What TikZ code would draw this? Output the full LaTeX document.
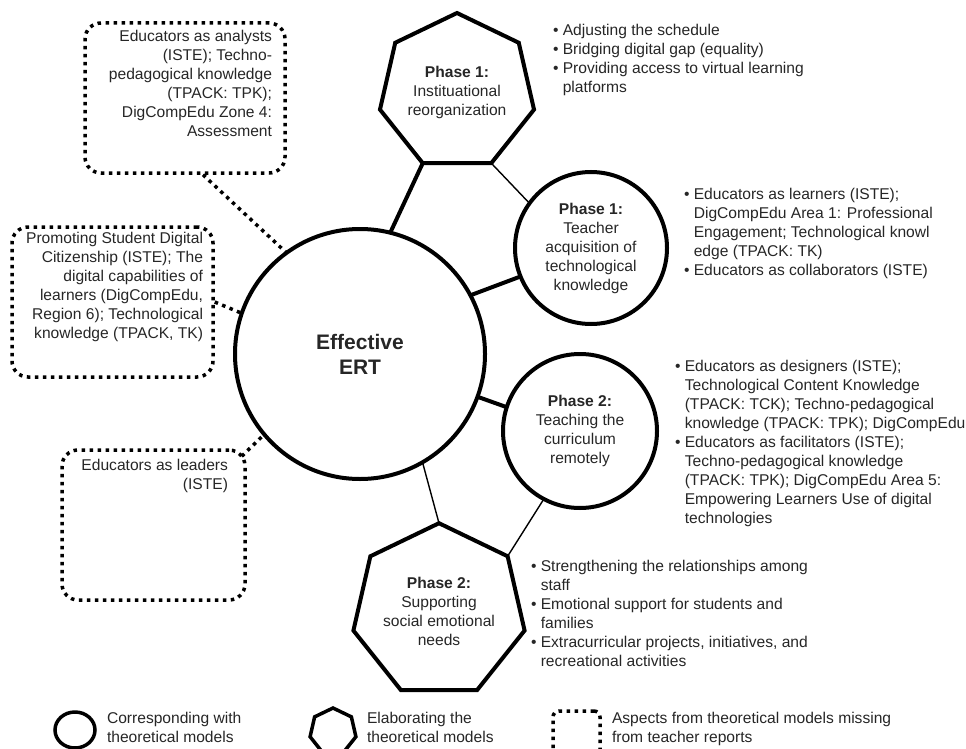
\documentclass[tikz,border=0pt]{standalone}
\usepackage{fontspec}
\setmainfont{Liberation Sans}
\usetikzlibrary{shapes.geometric,positioning}

\newcommand{\bitem}{\textbullet\ }
\newcommand{\bcont}{\phantom{\textbullet\ }}

\tikzset{
  txt/.style={font=\fontsize{15.6}{19}\selectfont, text=black!85, inner sep=0pt, outer sep=0pt},
  ring/.style={circle, draw, line width=4pt, align=center, txt},
  hepta/.style={regular polygon, regular polygon sides=7, draw, line width=4pt, align=center, minimum size=158pt, txt},
  dotbox/.style={draw, line width=3.5pt, dash pattern=on 3.5pt off 4.5pt, rounded corners=16pt},
  dotlink/.style={line width=3.5pt, dash pattern=on 3.5pt off 4.5pt},
  heavy/.style={line width=4pt},
  light/.style={line width=1.4pt}
}

\begin{document}
\begin{tikzpicture}[x=1pt,y=-1pt]
\useasboundingbox (0,0) rectangle (966,749);

% centre and phases
\node (ert) at (360,354) [ring, minimum size=250pt, font=\bfseries\fontsize{21}{25}\selectfont] {Effective\\ERT};
\node (h1) at (457,92) [hepta] {\textbf{Phase 1:}\\Instituational\\reorganization};
\node (p1) at (591,248) [ring, minimum size=152pt] {\textbf{Phase 1:}\\Teacher\\acquisition of\\technological\\knowledge};
\node (p2) at (580,431) [ring, minimum size=154pt] {\textbf{Phase 2:}\\Teaching the\\curriculum\\remotely};
\node (h2) at (439,611) [hepta] {\textbf{Phase 2:}\\Supporting\\social emotional\\needs};

\draw [heavy] (ert.76) -- (h1.corner 4);
\draw [light] (h1.corner 5) -- (p1.144);
\draw [heavy] (ert.28) -- (p1.202);
\draw [heavy] (ert.340) -- (p2.162);
\draw [light] (p2.242) -- (h2.corner 7);
\draw [light] (ert.300) -- (h2.corner 1);

% bullet lists
\node (list1) at (553,24.5) [txt, anchor=north west, align=left] {\bitem Adjusting the schedule\\
\bitem Bridging digital gap (equality)\\
\bitem Providing access to virtual learning\\
\bcont platforms};
\node (list2) at (684,188.5) [txt, anchor=north west, align=left] {\bitem Educators as learners (ISTE);\\
\bcont DigCompEdu Area 1: Professional\\
\bcont Engagement; Technological knowl\\
\bcont edge (TPACK: TK)\\
\bitem Educators as collaborators (ISTE)};
\node (list3) at (675,360.5) [txt, anchor=north west, align=left] {\bitem Educators as designers (ISTE);\\
\bcont Technological Content Knowledge\\
\bcont (TPACK: TCK); Techno-pedagogical\\
\bcont knowledge (TPACK: TPK); DigCompEdu\\
\bitem Educators as facilitators (ISTE);\\
\bcont Techno-pedagogical knowledge\\
\bcont (TPACK: TPK); DigCompEdu Area 5:\\
\bcont Empowering Learners Use of digital\\
\bcont technologies};
\node (list4) at (531,560.5) [txt, anchor=north west, align=left] {\bitem Strengthening the relationships among\\
\bcont staff\\
\bitem Emotional support for students and\\
\bcont families\\
\bitem Extracurricular projects, initiatives, and\\
\bcont recreational activities};

% missing aspects
\node (boxA) at (185,98) [dotbox, minimum width=200pt, minimum height=150pt] {};
\node (txtA) at (272,30.5) [txt, anchor=north east, align=right] {Educators as analysts\\(ISTE); Techno-\\pedagogical knowledge\\(TPACK: TPK);\\DigCompEdu Zone 4:\\Assessment};
\node (boxB) at (112.5,302) [dotbox, minimum width=201pt, minimum height=150pt] {};
\node (txtB) at (203,232.5) [txt, anchor=north east, align=right] {Promoting Student Digital\\Citizenship (ISTE); The\\digital capabilities of\\learners (DigCompEdu,\\Region 6); Technological\\knowledge (TPACK, TK)};
\node (boxC) at (153.5,525) [dotbox, minimum width=183pt, minimum height=150pt] {};
\node (txtC) at (228,459.5) [txt, anchor=north east, align=right] {Educators as leaders\\(ISTE)};

\draw [dotlink] ([xshift=18pt]boxA.south) -- (ert.126);
\draw [dotlink] (boxB.east) -- (ert.161);
\draw [dotlink] ([shift={(-5pt,-8pt)}]boxC.north east) -- (ert.220);

% legend
\node (legC) at (75,730) [ellipse, draw, line width=3.5pt, minimum width=40pt, minimum height=36pt, inner sep=0pt] {};
\node (legCtxt) at (107,712.5) [txt, anchor=north west, align=left] {Corresponding with\\theoretical models};
\node (legH) at (333,731.5) [regular polygon, regular polygon sides=7, draw, line width=3.5pt, minimum size=47pt, inner sep=0pt] {};
\node (legHtxt) at (367,712.5) [txt, anchor=north west, align=left] {Elaborating the\\theoretical models};
\node (legD) at (576.5,733) [dotbox, rounded corners=6pt, minimum width=47pt, minimum height=44pt] {};
\node (legDtxt) at (612,712.5) [txt, anchor=north west, align=left] {Aspects from theoretical models missing\\from teacher reports};
\end{tikzpicture}
\end{document}
